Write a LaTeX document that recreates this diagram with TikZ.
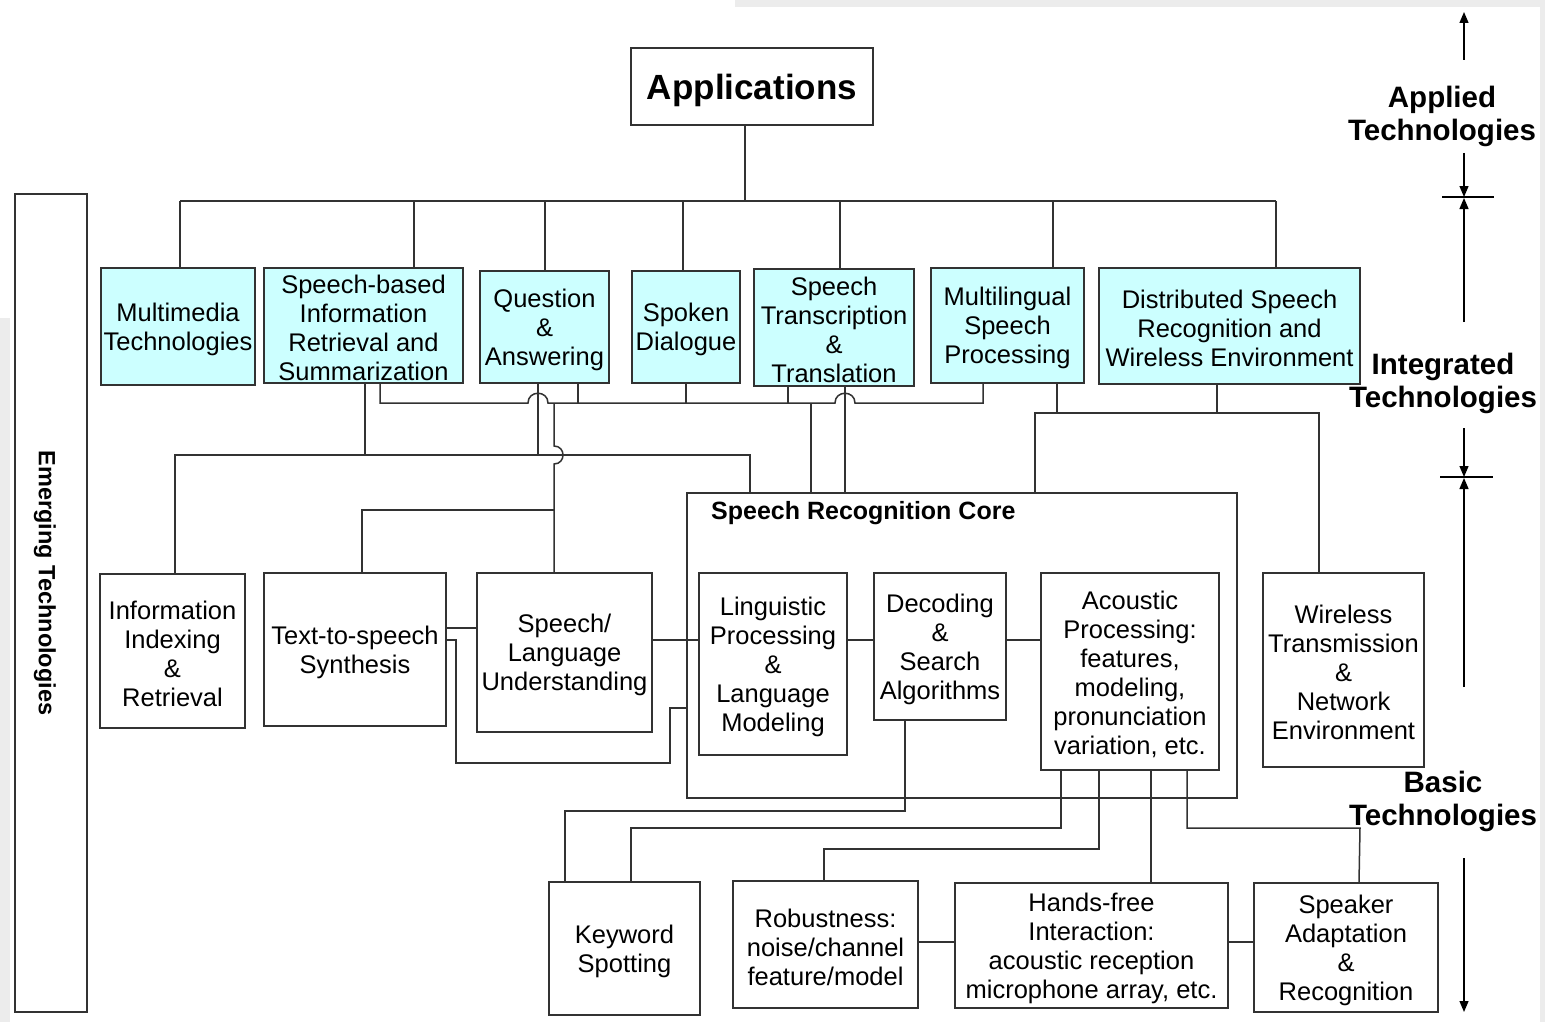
\documentclass[tikz,border=0pt]{standalone}
\usepackage{fontspec}
\setmainfont{Liberation Sans}
\usetikzlibrary{arrows.meta}
\definecolor{cyanbox}{RGB}{204,255,255}
\definecolor{edge}{RGB}{50,50,50}
\definecolor{bggray}{RGB}{236,236,236}
\newcommand{\TopStrut}{\rule{0pt}{24pt}}
\begin{document}
\begin{tikzpicture}[x=1pt,y=-1pt,
  box/.style={draw=edge, line width=1.5pt, inner sep=0pt, align=center, font=\fontsize{25.5}{29}\selectfont},
  cbox/.style={box, fill=cyanbox},
  conn/.style={draw=edge, line width=1.5pt},
  lvl/.style={align=center, font=\bfseries\fontsize{29.5}{33}\selectfont},
  larrow/.style={draw=black, line width=1.3pt, -{Triangle[length=11pt,width=9pt]}},
  tick/.style={draw=black, line width=1.3pt},
]
\useasboundingbox (0,0) rectangle (1545,1022);
\fill[white] (0,0) rectangle (1545,1022);
\fill[bggray] (735,0) rectangle (1545,7);
\fill[bggray] (1540,0) rectangle (1545,1022);
\fill[bggray] (0,318) rectangle (10,1022);

% top
\node[box, minimum width=242pt, minimum height=77pt, font=\bfseries\fontsize{35}{40}\selectfont] (app) at (752,86.5) {\rule{0pt}{33pt}Applications};

% integrated row
\node[cbox, minimum width=154pt, minimum height=117pt] (mm) at (178,326.5) {\TopStrut Multimedia\\Technologies};
\node[cbox, minimum width=199pt, minimum height=115pt] (sbir) at (363.5,325.5) {\TopStrut Speech-based\\Information\\Retrieval and\\Summarization};
\node[cbox, minimum width=129pt, minimum height=112pt] (qa) at (544.5,327) {\TopStrut Question\\\&\\Answering};
\node[cbox, minimum width=108pt, minimum height=112pt] (sd) at (686,327) {\TopStrut Spoken\\Dialogue};
\node[cbox, minimum width=160pt, minimum height=117pt] (stt) at (834,327.5) {\TopStrut Speech\\Transcription\\\&\\Translation};
\node[cbox, minimum width=153pt, minimum height=115pt] (msp) at (1007.5,325.5) {\TopStrut Multilingual\\Speech\\Processing};
\node[cbox, minimum width=261pt, minimum height=116pt] (dsr) at (1229.5,326) {\TopStrut Distributed Speech\\Recognition and\\Wireless Environment};

% emerging
\node[box, minimum width=72pt, minimum height=818pt] (emerg) at (51,603) {};
\node[rotate=-90, font=\bfseries\fontsize{23.5}{27}\selectfont] (emergtxt) at (45,583) {Emerging Technologies};

% basic row
\node[box, minimum width=145pt, minimum height=154pt] (ii) at (172.5,651) {\TopStrut Information\\Indexing\\\&\\Retrieval};
\node[box, minimum width=182pt, minimum height=153pt] (tts) at (355,649.5) {\TopStrut Text-to-speech\\Synthesis};
\node[box, minimum width=175pt, minimum height=159pt] (slu) at (564.5,652.5) {\TopStrut Speech/\\Language\\Understanding};
\node[box, minimum width=550pt, minimum height=305pt] (src) at (962,645.5) {};
\node[font=\bfseries\fontsize{25}{29}\selectfont, anchor=west, inner sep=0pt] (srctitle) at (711,513) {Speech Recognition Core};
\node[box, minimum width=148pt, minimum height=182pt] (lp) at (773,664) {\TopStrut Linguistic\\Processing\\\&\\Language\\Modeling};
\node[box, minimum width=132pt, minimum height=147pt] (dec) at (940,646.5) {\TopStrut Decoding\\\&\\Search\\Algorithms};
\node[box, minimum width=178pt, minimum height=197pt] (ap) at (1130,671.5) {\TopStrut Acoustic\\Processing:\\features,\\modeling,\\pronunciation\\variation, etc.};
\node[box, minimum width=161pt, minimum height=194pt] (wt) at (1343.5,670) {\TopStrut Wireless\\Transmission\\\&\\Network\\Environment};

% bottom row
\node[box, minimum width=151pt, minimum height=133pt] (ks) at (624.5,948.5) {\TopStrut Keyword\\Spotting};
\node[box, minimum width=185pt, minimum height=127pt] (rob) at (825.5,944.5) {\TopStrut Robustness:\\noise/channel\\feature/model};
\node[box, minimum width=273pt, minimum height=125pt] (hf) at (1091.5,945.5) {\TopStrut Hands-free\\Interaction:\\acoustic reception\\microphone array, etc.};
\node[box, minimum width=184pt, minimum height=129pt] (spk) at (1346,947.5) {\TopStrut Speaker\\Adaptation\\\&\\Recognition};

% level labels
\node[lvl] (lapp) at (1442,116) {Applied\\Technologies};
\node[lvl] (lint) at (1443,383) {Integrated\\Technologies};
\node[lvl] (lbas) at (1443,801) {Basic\\Technologies};

% top tree
\draw[conn] (app.south -| 745,0) -- (745,201);
\draw[conn] (180,201) -- (1276,201);
\draw[conn] (180,201) -- (mm.north -| 180,0);
\draw[conn] (414,201) -- (sbir.north -| 414,0);
\draw[conn] (545,201) -- (qa.north -| 545,0);
\draw[conn] (683,201) -- (sd.north -| 683,0);
\draw[conn] (840,201) -- (stt.north -| 840,0);
\draw[conn] (1053,201) -- (msp.north -| 1053,0);
\draw[conn] (1276,201) -- (dsr.north -| 1276,0);

% bus at y=403 with hops
\draw[conn] (sbir.south -| 380,0) -- (380,403) -- (528,403)
  .. controls (528,390) and (548,390) .. (548,403) -- (835,403)
  .. controls (835,390) and (855,390) .. (855,403) -- (983,403) -- (msp.south -| 983,0);
\draw[conn] (qa.south -| 578,0) -- (578,403);
\draw[conn] (sd.south -| 686,0) -- (686,403);
\draw[conn] (stt.south -| 788,0) -- (788,403);
\draw[conn] (811,403) -- (src.north -| 811,0);
\draw[conn] (stt.south -| 845,0) -- (src.north -| 845,0);

% line at x=554 to SLU and TTS
\draw[conn] (554,403) -- (554,446) .. controls (566,446) and (566,464) .. (554,464)
  -- (554,510) -- (slu.north -| 554,0);
\draw[conn] (554,510) -- (362,510) -- (tts.north -| 362,0);

% bus at y=455
\draw[conn] (sbir.south -| 365,0) -- (365,455);
\draw[conn] (qa.south -| 538,0) -- (538,455);
\draw[conn] (ii.north -| 175,0) -- (175,455) -- (750,455) -- (src.north -| 750,0);

% bus at y=413
\draw[conn] (msp.south -| 1057,0) -- (1057,413);
\draw[conn] (dsr.south -| 1217,0) -- (1217,413);
\draw[conn] (src.north -| 1035,0) -- (1035,413) -- (1319,413) -- (wt.north -| 1319,0);

% middle horizontal links
\draw[conn] (tts.east |- 0,628) -- (slu.west |- 0,628);
\draw[conn] (tts.east |- 0,640) -- (456,640) -- (456,763) -- (670,763) -- (670,708) -- (src.west |- 0,708);
\draw[conn] (slu.east |- 0,640) -- (lp.west |- 0,640);
\draw[conn] (lp.east |- 0,640) -- (dec.west |- 0,640);
\draw[conn] (dec.east |- 0,640) -- (ap.west |- 0,640);

% bottom links
\draw[conn] (dec.south -| 905,0) -- (905,811) -- (565,811) -- (ks.north -| 565,0);
\draw[conn] (ap.south -| 1061,0) -- (1061,828) -- (631,828) -- (ks.north -| 631,0);
\draw[conn] (ap.south -| 1099,0) -- (1099,849) -- (824,849) -- (rob.north -| 824,0);
\draw[conn] (ap.south -| 1151,0) -- (hf.north -| 1151,0);
\draw[conn] (ap.south -| 1187,0) -- (1187,828) -- (1360,828) -- (spk.north -| 1359,0);
\draw[conn] (rob.east |- 0,942) -- (hf.west |- 0,942);
\draw[conn] (hf.east |- 0,942) -- (spk.west |- 0,942);

% level arrows
\coordinate (a1s) at (1464,60);  \coordinate (a1e) at (1464,12);
\coordinate (a2s) at (1464,153); \coordinate (a2e) at (1464,197);
\coordinate (a3s) at (1464,322); \coordinate (a3e) at (1464,198);
\coordinate (a4s) at (1464,428); \coordinate (a4e) at (1464,477);
\coordinate (a5s) at (1464,687); \coordinate (a5e) at (1464,478);
\coordinate (a6s) at (1464,858); \coordinate (a6e) at (1464,1012);
\draw[larrow] (a1s) -- (a1e);
\draw[larrow] (a2s) -- (a2e);
\draw[larrow] (a3s) -- (a3e);
\draw[larrow] (a4s) -- (a4e);
\draw[larrow] (a5s) -- (a5e);
\draw[larrow] (a6s) -- (a6e);
\draw[tick] (1442,197) -- (1494,197);
\draw[tick] (1440,477) -- (1493,477);
\end{tikzpicture}
\end{document}
